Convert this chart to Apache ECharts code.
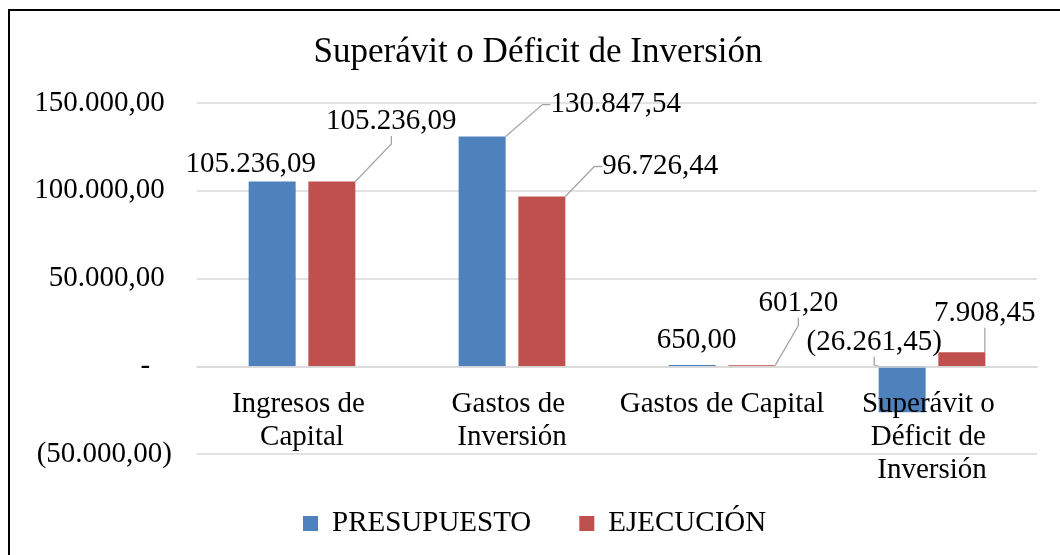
<!DOCTYPE html>
<html>
<head>
<meta charset="utf-8">
<script src="https://cdn.jsdelivr.net/npm/echarts@6/dist/echarts.min.js"></script>
<style>
  html, body { margin: 0; padding: 0; background: #fff; }
  #chart { width: 1060px; height: 555px; }
</style>
</head>
<body>
<div id="chart"></div>
<script>
var categories = ["Ingresos de Capital", "Gastos de Inversión", "Gastos de Capital", "Superávit o Déficit de Inversión"];
var presupuesto = [105236.09, 130847.54, 650.00, -26261.45];
var ejecucion = [105236.09, 96726.44, 601.20, 7908.45];
var yTicks = { min: -50000, max: 150000, interval: 50000 };

// where each value label sits, relative to the top centre of its bar
var labelOffsets = [
  [[-21.5, -17], [133.5, -32], [4.5, -25], [-28, -24]],
  [[59.5, -60], [118.5, -30], [46.5, -62], [23, -39]]
];
var noLeader = [[true, false, true, false], [false, false, false, false]];

var FONT = '"Liberation Serif", "Times New Roman", serif';
var gridBox = { left: 197, right: 23, top: 103, bottom: 101 };
var plotH = 555 - gridBox.top - gridBox.bottom;
// lift the category axis from the bottom edge up to the zero line
var zeroOffset = -plotH * (0 - yTicks.min) / (yTicks.max - yTicks.min);

function fmt(v) {
  var parts = Math.abs(v).toFixed(2).split(".");
  var s = parts[0].replace(/\B(?=(\d{3})+(?!\d))/g, ".") + "," + parts[1];
  return v < 0 ? "(" + s + ")" : s;
}

function items(values, si) {
  return values.map(function (v, i) {
    return { value: v, labelLine: { show: !noLeader[si][i] } };
  });
}

var myChart = echarts.init(document.getElementById("chart"));

function barSeries(name, values, color, si) {
  return {
    name: name,
    type: "bar",
    data: items(values, si),
    barWidth: 47,
    barGap: "27%",
    itemStyle: { color: color },
    label: {
      show: true,
      position: "inside",
      color: "#000",
      fontFamily: FONT,
      fontSize: 29,
      formatter: function (p) { return fmt(p.value); }
    },
    labelLine: {
      show: true,
      length2: 8,
      lineStyle: { color: "#A6A6A6", width: 1.3 }
    },
    labelLayout: function (p) {
      var off = labelOffsets[si][p.dataIndex];
      return {
        x: p.rect.x + p.rect.width / 2 + off[0],
        y: p.rect.y + off[1],
        align: "center",
        verticalAlign: "middle"
      };
    }
  };
}

myChart.setOption({
  animation: false,
  title: {
    text: "Superávit o Déficit de Inversión",
    left: 533,
    textAlign: "center",
    top: 30,
    textStyle: { fontFamily: FONT, fontSize: 35, fontWeight: "normal", color: "#000" }
  },
  graphic: [{
    type: "rect",
    shape: { x: 9, y: 10, width: 1100, height: 600 },
    style: { fill: "none", stroke: "#000", lineWidth: 2 },
    z: 100
  }],
  legend: {
    left: 298,
    top: 504,
    icon: "rect",
    itemWidth: 15,
    itemHeight: 15,
    itemGap: 48,
    textStyle: { fontFamily: FONT, fontSize: 29, color: "#000", padding: [0, 0, 0, 9] },
    data: ["PRESUPUESTO", "EJECUCIÓN"]
  },
  grid: {
    left: gridBox.left, right: gridBox.right, top: gridBox.top, bottom: gridBox.bottom,
    containLabel: false, outerBoundsMode: "none"
  },
  xAxis: {
    type: "category",
    data: categories,
    z: 3,
    offset: zeroOffset,
    axisTick: { show: false },
    axisLine: { show: true, onZero: false, lineStyle: { color: "#D9D9D9", width: 1.5 } },
    axisLabel: {
      interval: 0,
      margin: 22,
      color: "#000",
      fontFamily: FONT,
      fontSize: 29,
      lineHeight: 33,
      width: 209,
      overflow: "break",
      align: "center"
    }
  },
  yAxis: {
    type: "value",
    min: yTicks.min,
    max: yTicks.max,
    interval: yTicks.interval,
    axisLine: { show: false },
    axisTick: { show: false },
    splitLine: { lineStyle: { color: "#D9D9D9", width: 1.5 } },
    axisLabel: {
      margin: 25,
      color: "#000",
      fontFamily: FONT,
      fontSize: 29,
      formatter: function (v) {
        if (v === 0) return "-   ";
        return v < 0 ? fmt(v) : fmt(v) + " ";
      }
    }
  },
  series: [
    barSeries("PRESUPUESTO", presupuesto, "#4F81BD", 0),
    barSeries("EJECUCIÓN", ejecucion, "#C0504D", 1)
  ]
});
</script>
</body>
</html>
